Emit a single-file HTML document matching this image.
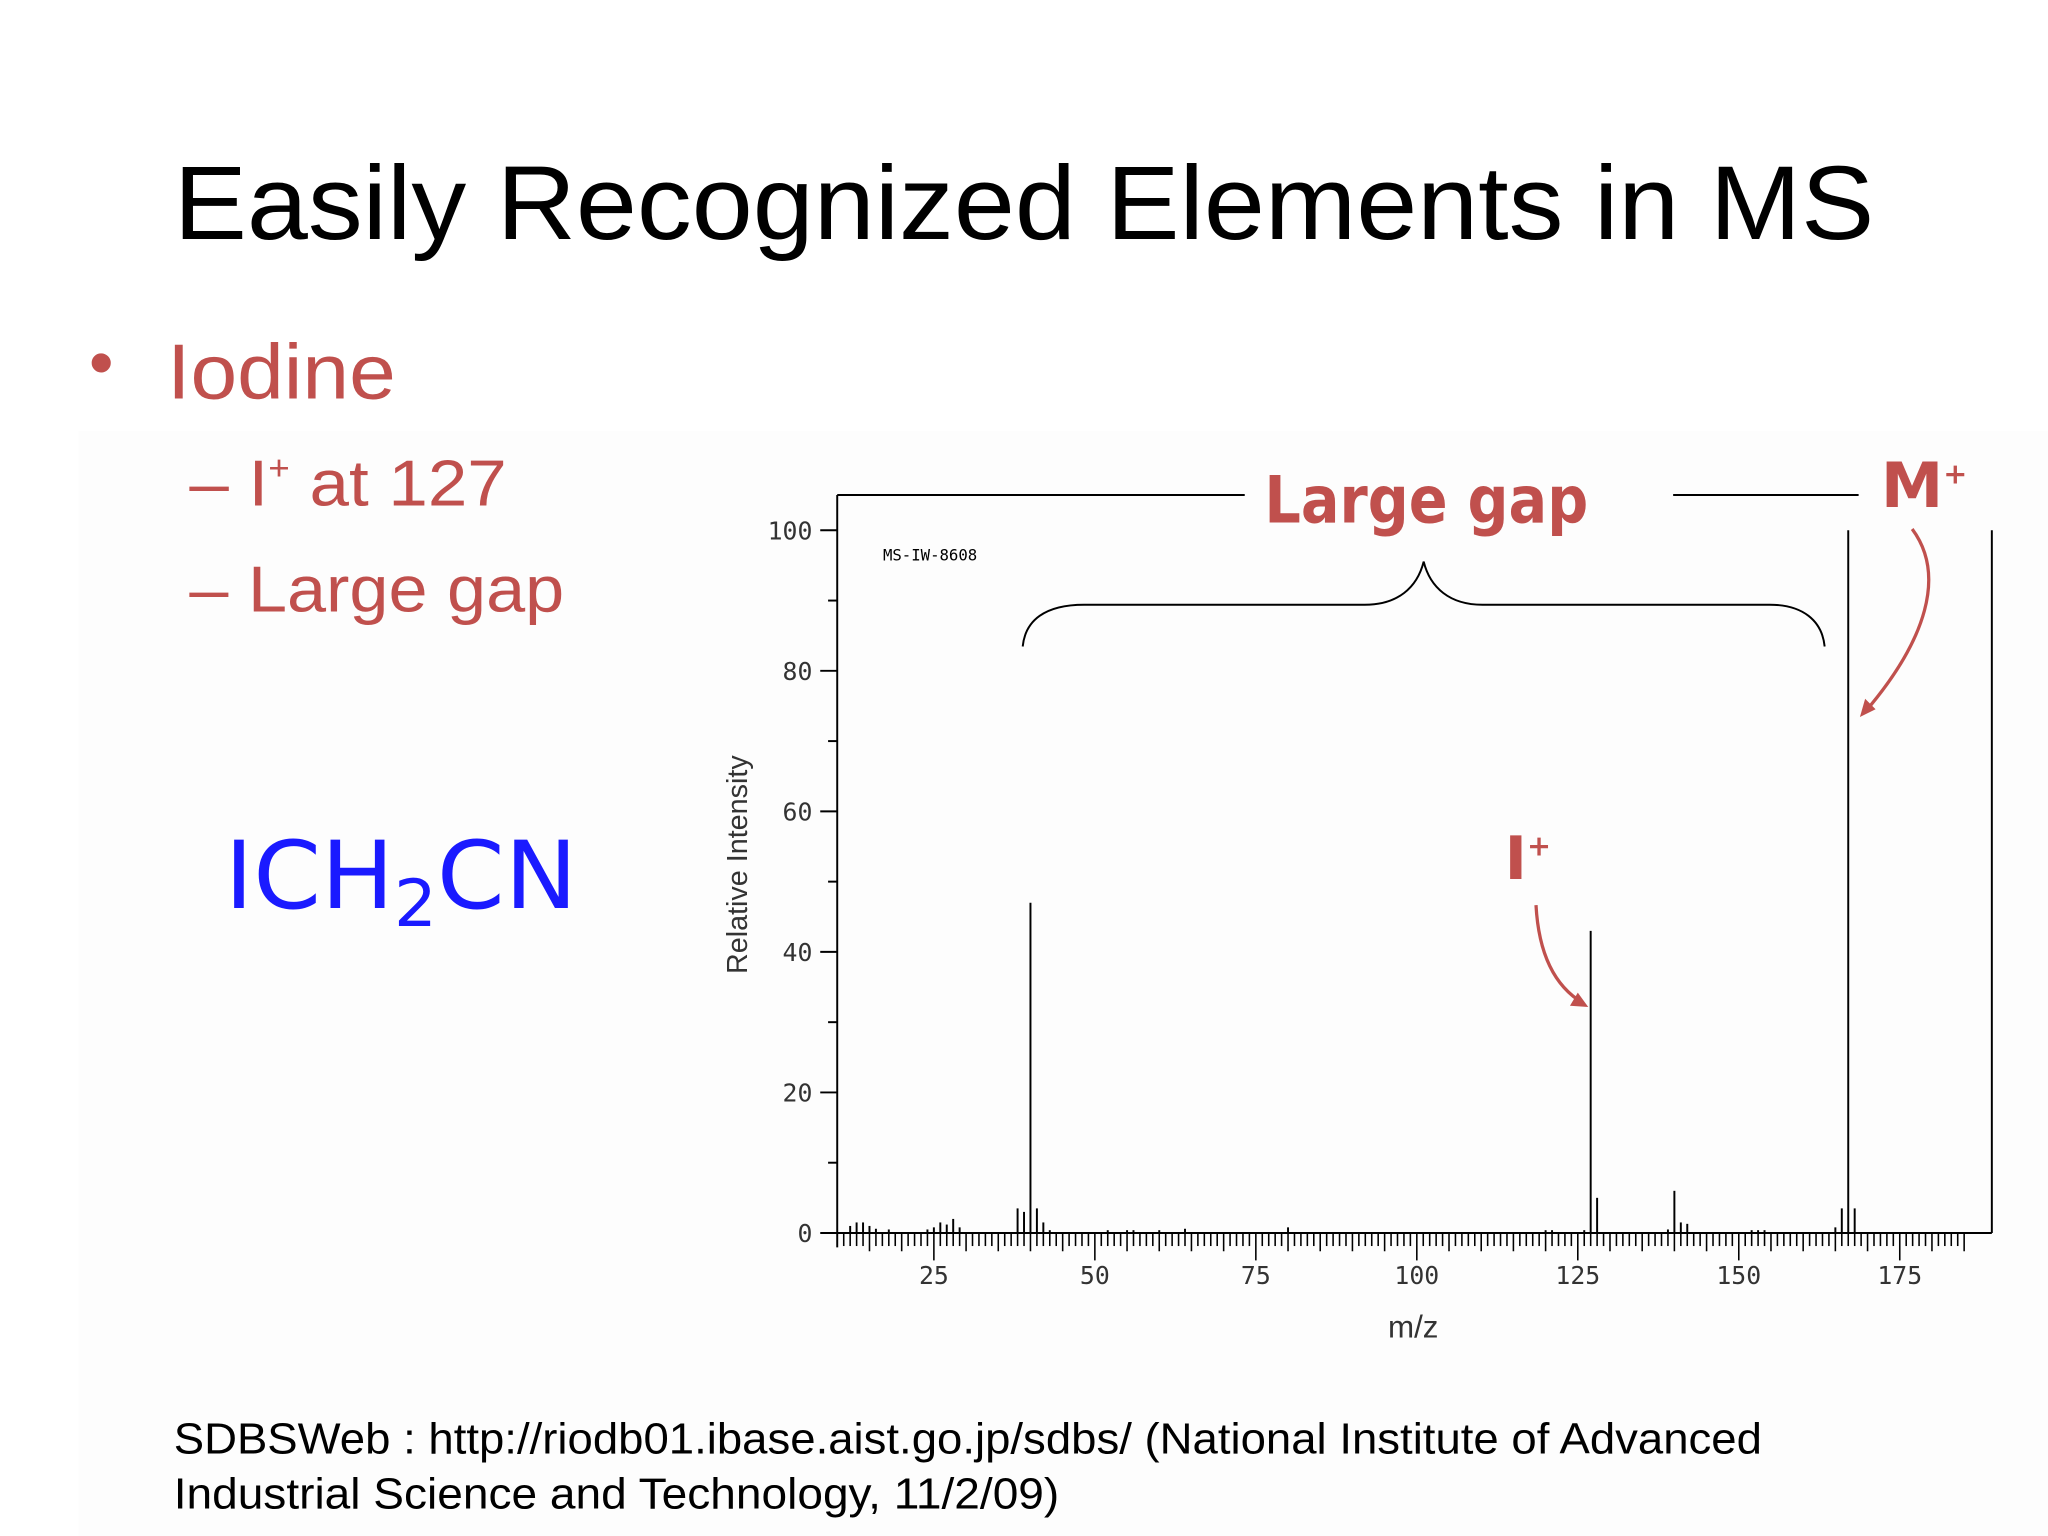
<!DOCTYPE html>
<html><head><meta charset="utf-8"><style>
html,body{margin:0;padding:0;background:#fff}
svg{display:block}
.t{font-family:"Liberation Sans",sans-serif}
.c{font-family:"Comic Sans MS","DejaVu Sans",sans-serif;font-weight:bold}
.m{font-family:"DejaVu Sans Mono","Liberation Mono",monospace}
</style></head><body>
<svg id="s" width="2048" height="1536" viewBox="0 0 1568 1176">
<rect x="0" y="0" width="1568" height="1176" fill="#ffffff"/>
<rect x="60" y="330" width="1508" height="846" fill="#fdfdfd"/>
<text class="t" x="133" y="183" font-size="80" textLength="1302" lengthAdjust="spacingAndGlyphs" fill="#000">Easily Recognized Elements in MS</text>
<text class="t" x="68" y="296" font-size="54" fill="#c0504d">•</text>
<text class="t" x="128" y="305" font-size="60" textLength="175" lengthAdjust="spacingAndGlyphs" fill="#c0504d">Iodine</text>
<text class="t" x="145" y="387" font-size="50" textLength="243" lengthAdjust="spacingAndGlyphs" fill="#c0504d">– I<tspan font-size="26" dy="-20">+</tspan><tspan dy="20"> at 127</tspan></text>
<text class="t" x="145" y="468" font-size="50" textLength="287" lengthAdjust="spacingAndGlyphs" fill="#c0504d">– Large gap</text>
<text class="c" x="172" y="695" font-size="72" fill="#1a1aff" style="font-weight:normal" textLength="270" lengthAdjust="spacingAndGlyphs">ICH<tspan font-size="50" dy="14">2</tspan><tspan dy="-14">CN</tspan></text>
<text class="t" x="133" y="1113" font-size="33" textLength="1216" lengthAdjust="spacingAndGlyphs" fill="#000">SDBSWeb : http://riodb01.ibase.aist.go.jp/sdbs/ (National Institute of Advanced</text>
<text class="t" x="133" y="1155" font-size="33" textLength="678" lengthAdjust="spacingAndGlyphs" fill="#000">Industrial Science and Technology, 11/2/09)</text>

<g id="chart">
<line x1="641" y1="379" x2="953" y2="379" stroke="#000" stroke-width="1.5"/>
<line x1="1281" y1="379" x2="1423" y2="379" stroke="#000" stroke-width="1.5"/>
<line x1="641" y1="379" x2="641" y2="955" stroke="#000" stroke-width="1.5"/>
<line x1="1525" y1="406" x2="1525" y2="944" stroke="#000" stroke-width="1.5"/>
<line x1="641" y1="944" x2="1525" y2="944" stroke="#000" stroke-width="1.5"/>
<text class="m" x="676" y="429" font-size="12" fill="#000">MS-IW-8608</text>
<text class="t" x="0" y="0" font-size="22" fill="#333" transform="translate(572,662) rotate(-90)" text-anchor="middle">Relative Intensity</text>
<text class="t" x="1082" y="1024" font-size="24" fill="#333" text-anchor="middle">m/z</text>
<path d="M783,495 C785,475 800,463 830,463 L1045,463 C1070,463 1085,450 1090,430 C1095,450 1110,463 1135,463 L1355,463 C1380,463 1395,475 1397,495" fill="none" stroke="#000" stroke-width="1.5"/>
<text class="c" x="968" y="400" font-size="50" textLength="248" lengthAdjust="spacingAndGlyphs" fill="#c0504d">Large gap</text>
<text class="c" x="1440" y="388" font-size="48" fill="#c0504d">M<tspan font-size="22" dy="-18">+</tspan></text>
<text class="c" x="1152" y="673" font-size="46" fill="#c0504d">I<tspan font-size="22" dy="-18">+</tspan></text>
<path d="M1464,405 C1490,440 1475,490 1428,545" fill="none" stroke="#c0504d" stroke-width="2.5"/>
<polygon points="1424,549 1428,535 1436,543" fill="#c0504d"/>
<path d="M1176,693 C1178,730 1190,755 1212,768" fill="none" stroke="#c0504d" stroke-width="2.5"/>
<polygon points="1216,771 1202,770 1208,760" fill="#c0504d"/>
<g id="ticks"></g>
<g id="peaks"></g>
</g>
</svg>
<script>
const mzValues = [12,13,14,15,16,18,24,25,26,27,28,29,38,39,40,41,42,43,52,55,56,60,64,80,120,121,126,127,128,139,140,141,142,152,153,154,165,166,167,168];
const intensities = [1,1.5,1.5,1,0.6,0.5,0.5,0.8,1.5,1.2,2,0.8,3.5,3,47,3.5,1.5,0.4,0.4,0.4,0.4,0.4,0.6,0.8,0.4,0.4,0.4,43,5,0.5,6,1.5,1.3,0.4,0.4,0.4,0.8,3.5,100,3.5];
const yTickValues = [0,20,40,60,80,100];
const yTickLabels = ["0","20","40","60","80","100"];
const xTickValues = [25,50,75,100,125,150,175];
const xTickLabels = ["25","50","75","100","125","150","175"];
const NS='http://www.w3.org/2000/svg';
function xScale(m){return 715+(m-25)*4.93;}
function yScale(v){return 944-v*5.38;}
const tg=document.getElementById('ticks'), pg=document.getElementById('peaks');
function mk(tag,at,parent){const e=document.createElementNS(NS,tag);for(const k in at)e.setAttribute(k,at[k]);parent.appendChild(e);return e;}
for(let i=0;i<yTickValues.length;i++){
  const y=yScale(yTickValues[i]);
  const l=mk('line',{x1:628,y1:y,x2:641,y2:y,stroke:'#000','stroke-width':1.5},tg);
  
  
  const t=mk('text',{x:622,y:y+7,'font-size':19,'text-anchor':'end',fill:'#333','font-family':'DejaVu Sans Mono, monospace'},tg);
  t.textContent=yTickLabels[i];
  
  
  if(i<yTickValues.length-1){
    const ym=yScale(yTickValues[i]+10);
    const ml=mk('line',{x1:634,y1:ym,x2:641,y2:ym,stroke:'#000','stroke-width':1.5},tg);
    
    
  }
}
for(let m=11;m<=185;m++){
  const x=xScale(m);
  const len=(m%25===0)?21:(m%5===0?14:10);
  const l=mk('line',{x1:x,y1:944,x2:x,y2:944+len,stroke:'#000','stroke-width':1.2},tg);
  
  
}
for(let i=0;i<xTickValues.length;i++){
  const t=mk('text',{x:xScale(xTickValues[i]),y:983,'font-size':19,'text-anchor':'middle',fill:'#333','font-family':'DejaVu Sans Mono, monospace'},tg);
  t.textContent=xTickLabels[i];
  
  
}
for(let i=0;i<mzValues.length;i++){
  const x=xScale(mzValues[i]);
  const l=mk('line',{x1:x,y1:944,x2:x,y2:yScale(intensities[i]),stroke:'#000','stroke-width':1.5},pg);
  
  
}
</script>
</body></html>
